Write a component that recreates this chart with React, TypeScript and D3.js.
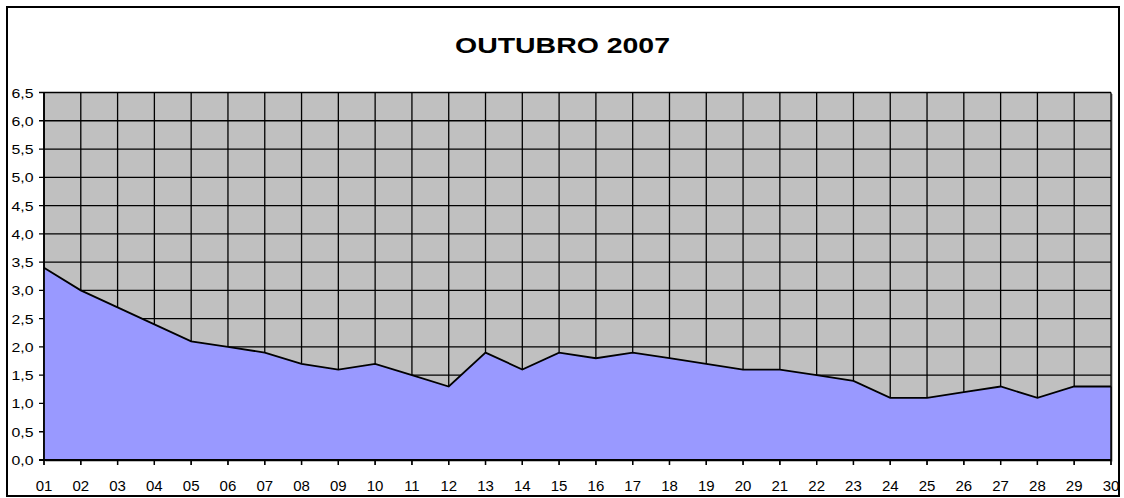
import React from "react";
import * as d3 from "d3";

const days = ["01","02","03","04","05","06","07","08","09","10","11","12","13","14","15","16","17","18","19","20","21","22","23","24","25","26","27","28","29","30"];
const values = [3.4,3.0,2.7,2.4,2.1,2.0,1.9,1.7,1.6,1.7,1.5,1.3,1.9,1.6,1.9,1.8,1.9,1.8,1.7,1.6,1.6,1.5,1.4,1.1,1.1,1.2,1.3,1.1,1.3,1.3];
const yTicks = [0,0.5,1,1.5,2,2.5,3,3.5,4,4.5,5,5.5,6,6.5];
const title = "OUTUBRO 2007";

export default function App() {
  const W = 1124, H = 498;
  const left = 44, right = 1111, top = 92.5, bottom = 460;
  const x = d3.scalePoint<string>().domain(days).range([left, right]);
  const y = d3.scaleLinear().domain([0, 6.5]).range([bottom, top]);
  const data = days.map((d, i) => ({ d, v: values[i] }));
  const area = d3.area<{d:string;v:number}>().x(p => x(p.d)!).y0(y(0)).y1(p => y(p.v));
  const line = d3.line<{d:string;v:number}>().x(p => x(p.d)!).y(p => y(p.v));
  const fmt = (v: number) => v.toFixed(1).replace(".", ",");
  return (
    <svg width={W} height={H} style={{ position: "absolute", left: 0, top: 0, background: "#fff" }} fontFamily="Arial, 'Liberation Sans', sans-serif">
      <rect x={7} y={7} width={1112} height={489} fill="#fff" stroke="#000" strokeWidth={2} />
      <text x={562.5} y={53} textAnchor="middle" fontWeight="bold" fontSize={22.5} textLength={215} lengthAdjust="spacingAndGlyphs">{title}</text>
      <rect x={left + 1.5} y={top + 1.5} width={right - left} height={bottom - top} fill="#808080" />
      <rect x={left} y={top} width={right - left} height={bottom - top} fill="#C0C0C0" />
      {yTicks.map(t => (
        <line key={"h" + t} x1={left - 5} x2={right} y1={y(t)} y2={y(t)} stroke="#000" strokeWidth={1.3} />
      ))}
      {days.map(d => (
        <line key={"v" + d} x1={x(d)} x2={x(d)} y1={top} y2={bottom + 5} stroke="#000" strokeWidth={1.3} />
      ))}
      <path d={area(data)!} fill="#9999FF" />
      <path d={line(data)!} fill="none" stroke="#000" strokeWidth={1.8} />
      <line x1={right} x2={right} y1={y(values[values.length - 1])} y2={bottom} stroke="#000" strokeWidth={1.5} />
      {days.map(d => (
        <line key={"t" + d} x1={x(d)} x2={x(d)} y1={bottom} y2={bottom + 5} stroke="#000" strokeWidth={1.3} />
      ))}
      <line x1={left} x2={left} y1={top} y2={bottom} stroke="#000" strokeWidth={1.8} />
      <line x1={left - 5} x2={right} y1={bottom} y2={bottom} stroke="#000" strokeWidth={1.8} />
      {yTicks.map(t => (
        <text key={"yl" + t} x={33.5} y={y(t) + 5} textAnchor="end" fontSize={12.5} textLength={22} lengthAdjust="spacingAndGlyphs">{fmt(t)}</text>
      ))}
      {days.map(d => (
        <text key={"xl" + d} x={x(d)} y={491} textAnchor="middle" fontSize={15}>{d}</text>
      ))}
    </svg>
  );
}
